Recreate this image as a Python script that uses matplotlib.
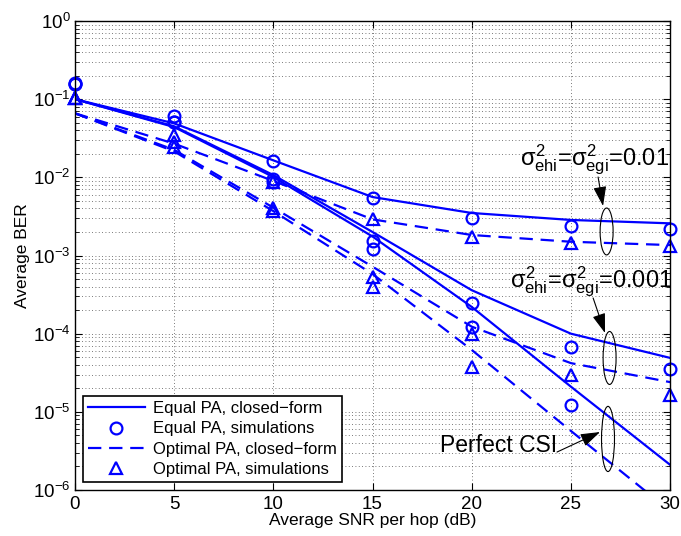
import matplotlib
matplotlib.use('Agg')
import matplotlib.pyplot as plt
import matplotlib.ticker as tic
from matplotlib.patches import Ellipse

plt.rcParams['font.family'] = ['Liberation Sans', 'DejaVu Sans']
plt.rcParams['mathtext.fontset'] = 'custom'
plt.rcParams['mathtext.rm'] = 'Liberation Sans'
plt.rcParams['mathtext.it'] = 'Liberation Sans'
plt.rcParams['mathtext.bf'] = 'Liberation Sans:bold'

snr = [0, 5, 10, 15, 20, 25, 30]
yticks = [1e-6, 1e-5, 1e-4, 1e-3, 1e-2, 1e-1, 1]

# closed-form curves
eq_cf_001 = [0.1, 0.049, 0.0165, 0.0056, 0.0035, 0.00285, 0.00258]
eq_cf_0001 = [0.1, 0.045, 0.0107, 0.0020, 0.00036, 1.0e-4, 4.9e-5]
eq_cf_perf = [0.1, 0.044, 0.0101, 0.00175, 0.00022, 2.1e-5, 2.1e-6]
opt_cf_001 = [0.066, 0.027, 0.0090, 0.0029, 0.00183, 0.0015, 0.00136]
opt_cf_0001 = [0.066, 0.0225, 0.0041, 0.00072, 0.000123, 4.2e-5, 2.4e-5]
opt_cf_perf = [0.066, 0.0215, 0.0037, 0.00058, 6.2e-5, 5.7e-6, 5.4e-7]

# simulations
eq_sim_001 = [0.16, 0.061, 0.0163, 0.0055, 0.00305, 0.0024, 0.0022]
eq_sim_0001 = [0.155, 0.0515, 0.0095, 0.00155, 0.000245, 6.8e-5, 3.5e-5]
eq_sim_perf = [0.155, 0.051, 0.0086, 0.0012, 0.000123, 1.23e-5]
opt_sim_001 = [0.105, 0.035, 0.0088, 0.0029, 0.00174, 0.00143, 0.00132]
opt_sim_0001 = [0.105, 0.0286, 0.0041, 0.00053, 1.0e-4, 2.95e-5, 1.64e-5]
opt_sim_perf = [0.105, 0.0247, 0.0037, 0.00039, 3.7e-5]

labels = ['Equal PA, closed\u2212form', 'Equal PA, simulations',
          'Optimal PA, closed\u2212form', 'Optimal PA, simulations']

blue = '#0000ff'
lw = 1.6
dash = (0, (6, 3.5))
msz = 8.5
mew = 1.6

fig = plt.figure(figsize=(6.81, 5.36), dpi=100)
ax = fig.add_axes([0.110, 0.0858, 0.874, 0.875])
ax.set_yscale('log')

for i, y in enumerate([eq_cf_001, eq_cf_0001, eq_cf_perf]):
    ax.plot(snr[:len(y)], y, color=blue, lw=lw, label=labels[0] if i == 0 else None)
for i, y in enumerate([eq_sim_001, eq_sim_0001, eq_sim_perf]):
    ax.plot(snr[:len(y)], y, ls='none', marker='o', ms=msz, mfc='none', mec=blue, mew=mew,
            label=labels[1] if i == 0 else None, clip_on=False)
for i, y in enumerate([opt_cf_001, opt_cf_0001, opt_cf_perf]):
    ax.plot(snr[:len(y)], y, color=blue, lw=lw, ls=dash, label=labels[2] if i == 0 else None)
for i, y in enumerate([opt_sim_001, opt_sim_0001, opt_sim_perf]):
    ax.plot(snr[:len(y)], y, ls='none', marker='^', ms=msz + 0.5, mfc='none', mec=blue, mew=mew,
            label=labels[3] if i == 0 else None, clip_on=False)

ax.set_xlim(0, 30)
ax.set_ylim(1e-6, 1)
ax.set_xticks(snr)
ax.set_yticks(yticks)
ax.yaxis.set_major_formatter(tic.LogFormatterMathtext())
ax.yaxis.set_minor_locator(tic.LogLocator(base=10, subs=range(2, 10), numticks=20))
ax.yaxis.set_minor_formatter(tic.NullFormatter())
ax.tick_params(which='both', direction='in', top=True, right=True, labelsize=13.5)
ax.tick_params(which='major', length=5, width=0.8)
ax.tick_params(which='minor', length=3, width=0.6)
ax.tick_params(axis='x', pad=4)
ax.tick_params(axis='y', pad=3)
for s in ax.spines.values():
    s.set_linewidth(1.0)

ax.grid(True, which='major', axis='both', ls=(0, (1, 3)), lw=0.6, color='0.3')
ax.grid(True, which='minor', axis='y', ls=(0, (1, 3)), lw=0.6, color='0.3')
ax.set_axisbelow(True)

ax.set_xlabel('Average SNR per hop (dB)', fontsize=12.5, labelpad=0.5)
ax.set_ylabel('Average BER', fontsize=12.5, labelpad=2)

leg = ax.legend(loc='lower left', bbox_to_anchor=(0.0134, 0.017), borderaxespad=0,
                fontsize=12, fancybox=False, framealpha=1, edgecolor='k',
                handlelength=3.4, handletextpad=0.5, labelspacing=0.32, borderpad=0.3)
leg.get_frame().set_linewidth(1.2)

# annotations
fig.canvas.draw()
def to_axes(x, y):
    return ax.transAxes.inverted().transform(ax.transData.transform((x, y)))

for (cx, cy, h) in [(26.8, 0.00203, 0.100), (26.95, 4.89e-5, 0.113), (26.87, 4.5e-6, 0.139)]:
    ex, ey = to_axes(cx, cy)
    ax.add_patch(Ellipse((ex, ey), 0.0218, h, transform=ax.transAxes,
                         fill=False, ec='k', lw=0.8, zorder=5))

ax.text(22.44, 0.0144, r'$\sigma^2_{ehi}$=$\sigma^2_{egi}$=0.01', fontsize=17, va='baseline')
ax.text(21.93, 3.95e-4, r'$\sigma^2_{ehi}$=$\sigma^2_{egi}$=0.001', fontsize=17, va='baseline')
ax.text(24.30, 3.06e-6, 'Perfect CSI', fontsize=16.5, ha='right', va='baseline')

aprops = dict(arrowstyle='-|>,head_length=0.6,head_width=0.2', color='k', lw=0.8,
              mutation_scale=20, shrinkA=0, shrinkB=0)
ax.annotate('', xy=(26.62, 0.0043), xytext=(26.37, 0.0101), arrowprops=aprops, zorder=6)
ax.annotate('', xy=(26.72, 1.02e-4), xytext=(26.12, 2.86e-4), arrowprops=aprops, zorder=6)
ax.annotate('', xy=(26.47, 5.52e-6), xytext=(24.30, 3.06e-6), arrowprops=aprops, zorder=6)

fig.savefig('out.png', dpi=100)
